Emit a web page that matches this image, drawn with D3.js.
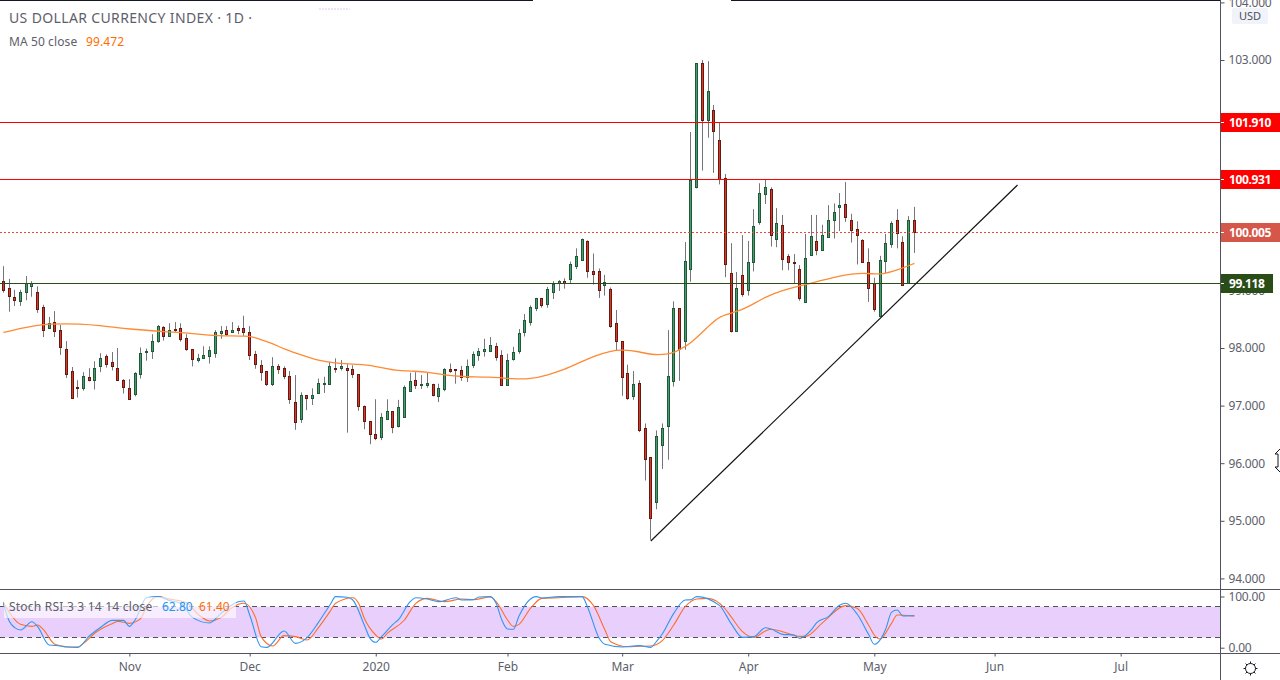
<!DOCTYPE html>
<html>
<head>
<meta charset="utf-8">
<script src="https://cdn.jsdelivr.net/npm/d3@7"></script>
<style>
html, body { margin: 0; padding: 0; background: #fff; overflow: hidden; }
text { font-family: "Noto Sans", sans-serif; }
</style>
</head>
<body>
<div id="canvas"></div>
<script>
var highs = [99.42,99.20,99.01,99.01,99.25,99.16,99.07,98.75,98.54,98.64,98.40,98.12,97.67,97.44,97.58,97.65,97.77,97.91,97.89,97.93,
    98.00,97.46,97.46,97.58,98.01,97.99,98.24,98.40,98.38,98.43,98.45,98.43,98.24,97.98,97.90,98.03,98.03,98.31,98.38,98.38,
    98.45,98.39,98.56,98.38,97.95,97.79,97.60,97.84,97.72,97.68,97.60,97.53,97.23,97.18,97.30,97.47,97.50,97.76,97.82,97.79,
    97.72,97.70,97.54,97.00,96.73,97.11,96.87,97.11,96.90,97.10,97.35,97.57,97.58,97.53,97.57,97.38,97.38,97.65,97.73,97.63,
    97.69,97.80,97.94,98.00,98.16,98.19,98.09,97.96,97.90,98.02,98.33,98.59,98.74,98.87,98.87,99.06,99.16,99.18,99.21,99.50,
    99.73,99.90,99.87,99.64,99.38,99.27,99.05,98.66,98.12,97.71,97.60,97.44,96.69,96.10,96.57,96.69,98.31,98.81,98.69,99.84,
    101.75,102.94,103.00,102.98,102.22,101.91,101.02,99.82,99.32,99.96,99.86,100.41,100.86,100.92,100.79,100.43,100.31,99.63,99.63,99.44,
    99.98,100.31,100.31,100.14,100.48,100.51,100.69,100.88,100.33,100.20,99.89,99.73,99.22,99.60,99.98,100.20,100.41,99.94,100.29,100.45];
var lows = [98.96,98.63,98.73,98.73,98.83,98.89,98.61,98.19,98.33,98.19,97.88,97.48,97.14,97.14,97.26,97.42,97.28,97.58,97.66,97.61,
    97.43,97.21,97.10,97.16,97.47,97.78,97.81,98.09,98.13,98.20,98.28,98.11,97.95,97.68,97.75,97.83,97.73,97.83,98.16,98.21,
    98.26,98.24,98.21,97.79,97.64,97.43,97.34,97.34,97.55,97.46,97.03,96.58,96.70,96.92,97.01,97.20,97.22,97.38,97.57,97.61,
    96.53,97.48,96.91,96.59,96.33,96.40,96.40,96.77,96.52,96.62,96.81,97.24,97.29,97.29,97.31,97.16,97.06,97.25,97.57,97.38,
    97.43,97.41,97.65,97.78,97.85,97.93,97.78,97.35,97.36,97.78,97.90,98.20,98.39,98.64,98.70,98.70,98.85,98.99,99.03,99.12,
    99.37,99.52,99.22,99.10,98.87,98.91,98.35,97.96,97.17,97.10,97.10,96.54,95.70,94.67,95.20,95.90,96.06,97.33,97.43,97.97,
    99.15,100.77,101.08,101.65,101.04,100.84,99.23,98.27,98.28,98.89,98.91,99.33,100.14,100.50,99.76,99.75,99.35,99.35,99.12,98.82,
    98.80,99.60,99.61,99.70,99.91,99.90,100.03,100.19,99.83,99.45,99.48,98.80,98.63,98.56,99.30,99.74,99.73,99.10,99.12,99.65];
var opens = [99.16,99.04,98.88,98.82,98.98,99.08,98.98,98.71,98.35,98.45,98.32,97.99,97.60,97.33,97.31,97.49,97.45,97.68,97.86,97.75,
    97.66,97.44,97.30,97.21,97.54,97.93,97.94,98.13,98.36,98.20,98.33,98.34,98.17,97.98,97.80,97.83,97.86,97.92,98.26,98.32,
    98.28,98.34,98.34,98.27,97.89,97.70,97.60,97.38,97.68,97.65,97.51,97.07,96.77,97.18,97.14,97.22,97.39,97.38,97.66,97.66,
    97.66,97.63,97.54,97.00,96.73,96.50,96.46,96.77,96.90,96.65,96.81,97.26,97.44,97.35,97.35,97.37,97.17,97.29,97.63,97.63,
    97.61,97.49,97.71,97.88,97.94,97.94,98.03,97.87,97.36,97.81,97.94,98.28,98.46,98.70,98.86,98.77,98.98,99.12,99.16,99.19,
    99.43,99.53,99.85,99.33,99.33,99.09,99.02,98.43,98.12,97.56,97.16,97.39,96.61,96.10,95.33,96.32,96.65,97.43,98.69,98.13,
    99.38,100.79,102.94,101.95,102.14,101.61,100.96,99.30,98.30,99.26,99.01,99.50,100.19,100.67,100.76,99.90,100.13,99.59,99.49,99.38,
    98.80,99.62,99.85,99.71,99.93,100.22,100.44,100.50,100.23,100.06,99.87,99.49,99.12,98.56,99.51,99.80,100.22,99.84,99.12,100.23];
var closes = [99.01,98.91,98.84,98.98,99.12,99.12,98.68,98.32,98.43,98.30,98.01,97.55,97.14,97.31,97.51,97.45,97.66,97.82,97.73,97.68,
    97.45,97.33,97.12,97.56,97.91,97.94,98.13,98.39,98.21,98.32,98.31,98.15,97.99,97.81,97.83,97.87,97.96,98.27,98.29,98.24,
    98.31,98.31,98.27,97.88,97.73,97.59,97.38,97.68,97.64,97.52,97.12,96.72,97.18,97.14,97.18,97.40,97.40,97.68,97.65,97.68,
    97.62,97.55,97.00,96.74,96.51,96.44,96.80,96.90,96.62,96.97,97.32,97.42,97.35,97.37,97.39,97.19,97.30,97.63,97.60,97.61,
    97.49,97.68,97.89,97.94,97.98,98.06,97.85,97.35,97.80,97.93,98.26,98.48,98.71,98.86,98.74,99.02,99.11,99.16,99.13,99.45,
    99.59,99.89,99.33,99.29,99.00,99.14,98.39,98.13,97.50,97.14,97.37,96.58,96.08,95.05,96.48,96.61,97.51,98.69,97.99,99.51,
    100.92,102.94,101.95,102.47,101.77,100.94,99.45,98.30,99.04,98.94,99.49,100.11,100.69,100.79,99.96,100.17,99.55,99.49,99.48,98.86,
    99.57,99.94,99.71,99.96,100.22,100.36,100.48,100.28,100.05,99.96,99.50,99.04,98.67,99.52,99.82,100.17,99.99,99.10,100.23,100.01];

var maBars = [0,3,5,8,11,13,17,20,22,25,28,31,34,37,43,44,47,49,52,55,58,63,66,69,72,74,77,80,85,89,92,95,98,100,103,106,108,111,113,116,117,118,120,123,125,128,130,133,136,139,142,145,148,151,153,156,159];
var maValues = [98.27,98.34,98.38,98.42,98.42,98.42,98.39,98.35,98.33,98.31,98.28,98.27,98.24,98.21,98.21,98.18,98.08,97.98,97.88,97.78,97.73,97.72,97.66,97.60,97.60,97.58,97.53,97.50,97.50,97.46,97.46,97.53,97.63,97.72,97.86,97.95,97.97,97.94,97.88,97.89,97.92,97.97,98.08,98.37,98.56,98.63,98.71,98.89,99.00,99.08,99.15,99.23,99.29,99.30,99.27,99.35,99.47];

var kBars = [0,1,2,3,5,6,8,10,11,13,15,17,19,21,22,23,25,27,29,31,33,36,38,41,42,43,45,46,49,51,53,55,57,58,60,61,63,64,65,66,68,69,71,72,74,76,79,80,82,83,85,86,87,88,89,90,92,93,94,97,101,102,104,105,108,111,113,114,115,117,119,120,121,125,127,129,131,133,134,136,138,139,141,142,144,146,147,149,151,152,154,155,156,157,159];
var kValues = [86.7,52.8,39.1,34.6,50.8,41.1,5.3,3.3,1.4,0.7,22.8,39.8,53.4,53.4,41.7,54.1,97.7,99.7,91.9,86.7,59.3,48.3,67.1,89.9,91.2,63.9,2.0,0.7,32.6,8.5,19.6,49.5,83.4,99.7,98.4,93.2,44.3,18.3,10.5,21.6,45.6,55.4,89.9,97.7,95.1,89.9,97.7,93.2,93.8,99.0,99.7,86.7,54.1,36.5,35.9,61.9,95.1,99.7,97.1,99.7,99.7,78.2,18.3,6.6,1.4,4.0,0.7,12.4,26.8,67.1,93.2,93.8,99.7,82.1,47.6,20.2,21.6,39.1,36.5,26.1,24.8,18.3,34.6,49.5,60.6,83.4,86.7,65.8,26.1,6.6,36.5,69.1,73.6,62.0,62.8];
var dBars = [0,1,3,5,6,7,9,11,13,14,16,19,20,22,24,25,27,29,32,34,36,38,40,42,44,45,47,49,51,53,55,57,58,61,62,63,65,66,67,70,72,74,77,80,82,85,86,88,89,90,92,94,97,101,103,105,106,109,111,113,115,117,119,121,123,126,127,129,131,133,134,136,139,140,143,147,149,151,152,153,155,156,159];
var dValues = [88.6,69.7,45.6,41.7,44.3,35.2,6.6,2.0,1.4,8.5,28.7,46.9,51.5,47.6,57.4,80.1,100,95.1,88.0,65.2,52.2,58.7,78.8,86.7,59.3,21.6,3.3,23.5,21.6,15.0,39.1,70.4,86.7,97.7,86.7,57.4,24.8,17.0,28.1,54.1,86.7,96.4,89.9,95.1,93.8,99.0,89.9,54.1,41.7,45.6,76.9,96.4,97.7,99.7,82.1,34.6,11.8,2.0,2.7,3.3,13.7,44.3,80.1,95.1,96.4,75.6,60.6,31.3,20.2,32.6,35.9,31.3,22.2,22.2,48.9,82.1,76.9,44.3,24.8,17.0,47.6,63.9,61.4];

var priceTicks = [104,103,99,98,97,96,95,94];
var stochTicks = [100,0];
var monthBars = [22,43,65,88,108,130,152,173,195];
var monthLabels = ['Nov','Dec','2020','Feb','Mar','Apr','May','Jun','Jul'];
var levels = [101.91,100.931,100.005,99.118];
var levelColors = ['#ff0000','#ff0000','#d5574a','#2a4d17'];
var trendBars = [113,177];
var trendValues = [94.65,100.83];
var stochBands = [80,20];

var WIDTH = 1280, HEIGHT = 680;
var AXIS_X = 1220.5, PANE_TOP = 589.5, PANE_BOTTOM = 653.5;
var TEXT = '#5d606b', LINE = '#50535e';
var UP_FILL = '#4b9b6f', UP_EDGE = '#1c5a38', DOWN_FILL = '#d9392a', DOWN_EDGE = '#65190f';

var svg = d3.select('#canvas').append('svg').attr('width', WIDTH).attr('height', HEIGHT).style('display', 'block');

var x = d3.scaleLinear().domain([0, 159]).range([3.3, 914.4]);
var y = d3.scaleLinear().domain([103, 94]).range([60, 578.4]);
var ys = d3.scaleLinear().domain([100, 0]).range([596.5, 647.7]);

function snap(v) {
    return Math.floor(v) + 0.5;
}

// candles
var candles = svg.append('g');
closes.forEach(function(c, i) {
    var cx = snap(x(i));
    var up = c >= opens[i];
    var top = Math.round(y(Math.max(opens[i], c))) + 0.5;
    var bot = Math.round(y(Math.min(opens[i], c))) + 0.5;
    candles.append('line')
        .attr('x1', cx).attr('x2', cx)
        .attr('y1', y(highs[i])).attr('y2', y(lows[i]))
        .attr('stroke', '#76767a').attr('stroke-width', 1);
    candles.append('rect')
        .attr('x', cx - 1).attr('width', 2)
        .attr('y', top).attr('height', Math.max(bot - top, 1))
        .attr('fill', up ? UP_FILL : DOWN_FILL)
        .attr('stroke', up ? UP_EDGE : DOWN_EDGE).attr('stroke-width', 1);
});

// moving average
var maLine = d3.line()
    .x(function(d) { return x(d[0]); })
    .y(function(d) { return y(d[1]); })
    .curve(d3.curveBasis);
svg.append('path')
    .attr('d', maLine(d3.zip(maBars, maValues)))
    .attr('fill', 'none').attr('stroke', '#ff8a33').attr('stroke-width', 1.3);

// horizontal levels
levels.forEach(function(v, i) {
    svg.append('line')
        .attr('x1', 0).attr('x2', AXIS_X)
        .attr('y1', Math.floor(y(v)) + 0.5).attr('y2', Math.floor(y(v)) + 0.5)
        .attr('stroke', i == 2 ? '#ef4a38' : levelColors[i]).attr('stroke-width', 1)
        .attr('stroke-dasharray', i == 2 ? '2,2' : null);
});

// trend line
svg.append('line')
    .attr('x1', x(trendBars[0])).attr('y1', y(trendValues[0]))
    .attr('x2', x(trendBars[1])).attr('y2', y(trendValues[1]))
    .attr('stroke', '#111').attr('stroke-width', 1.2);

// stoch pane
svg.append('rect')
    .attr('x', 0).attr('width', AXIS_X)
    .attr('y', ys(stochBands[0])).attr('height', ys(stochBands[1]) - ys(stochBands[0]))
    .attr('fill', '#e9d0fc');
stochBands.forEach(function(v) {
    svg.append('line')
        .attr('x1', 0).attr('x2', AXIS_X)
        .attr('y1', Math.floor(ys(v)) + 0.5).attr('y2', Math.floor(ys(v)) + 0.5)
        .attr('stroke', '#50535e').attr('stroke-width', 1).attr('stroke-dasharray', '5,4');
});
var stochLine = d3.line()
    .x(function(d) { return x(d[0]); })
    .y(function(d) { return ys(d[1]); })
    .curve(d3.curveMonotoneX);
svg.append('path')
    .attr('d', stochLine(d3.zip(dBars, dValues)))
    .attr('fill', 'none').attr('stroke', '#ff6d2a').attr('stroke-width', 1.1);
svg.append('path')
    .attr('d', stochLine(d3.zip(kBars, kValues)))
    .attr('fill', 'none').attr('stroke', '#2f96f3').attr('stroke-width', 1.1);

// stoch legend
svg.append('rect').attr('x', 4).attr('y', 597).attr('width', 232).attr('height', 21).attr('fill', '#fff').attr('opacity', 0.62);
svg.append('text').attr('x', 9).attr('y', 611).attr('font-size', 12).attr('letter-spacing', 0.22).attr('fill', TEXT).text('Stoch RSI 3 3 14 14 close');
svg.append('text').attr('x', 162).attr('y', 611).attr('font-size', 12).attr('fill', '#2196f3').text('62.80');
svg.append('text').attr('x', 199).attr('y', 611).attr('font-size', 12).attr('fill', '#ff6d00').text('61.40');

// pane borders
svg.append('line').attr('x1', 0).attr('x2', WIDTH).attr('y1', PANE_TOP).attr('y2', PANE_TOP).attr('stroke', LINE);
svg.append('line').attr('x1', 0).attr('x2', WIDTH).attr('y1', PANE_BOTTOM).attr('y2', PANE_BOTTOM).attr('stroke', LINE);
svg.append('line').attr('x1', 0).attr('x2', 533).attr('y1', 0.5).attr('y2', 0.5).attr('stroke', '#131722');
svg.append('line').attr('x1', 731).attr('x2', AXIS_X).attr('y1', 0.5).attr('y2', 0.5).attr('stroke', '#131722');
svg.append('line').attr('x1', 319).attr('x2', 350).attr('y1', 9).attr('y2', 9)
    .attr('stroke', '#d9c8ee').attr('stroke-dasharray', '2,1');

// axes
function style_axis(g) {
    g.select('.domain').remove();
    g.selectAll('line').attr('stroke', LINE);
    g.selectAll('text').attr('fill', TEXT).attr('font-family', '"Noto Sans", sans-serif').attr('font-size', 12);
}
svg.append('g').attr('transform', 'translate(' + AXIS_X + ',0)')
    .call(d3.axisRight(y).tickValues(priceTicks).tickSize(4).tickPadding(4).tickFormat(d3.format('.3f')))
    .call(style_axis)
    .selectAll('text').attr('letter-spacing', -0.2);
svg.append('g').attr('transform', 'translate(' + AXIS_X + ',0)')
    .call(d3.axisRight(ys).tickValues(stochTicks).tickSize(4).tickPadding(4).tickFormat(d3.format('.2f')))
    .call(style_axis)
    .selectAll('text').attr('letter-spacing', -0.2);
svg.append('g').attr('transform', 'translate(0,' + PANE_BOTTOM + ')')
    .call(d3.axisBottom(x).tickValues(monthBars).tickSize(3).tickPadding(6).tickFormat(function(d, i) { return monthLabels[i]; }))
    .call(style_axis);
svg.append('line').attr('x1', AXIS_X).attr('x2', AXIS_X).attr('y1', 0).attr('y2', HEIGHT).attr('stroke', LINE);

// price labels on the axis
levels.forEach(function(v, i) {
    var cy = Math.floor(y(v)) + 0.5;
    var w = i == 3 ? 52 : 59;
    svg.append('rect').attr('x', 1221).attr('y', cy - 9.5).attr('width', w).attr('height', 19).attr('fill', levelColors[i]);
    svg.append('line').attr('x1', 1221).attr('x2', 1224).attr('y1', cy).attr('y2', cy).attr('stroke', '#fff');
    svg.append('text').attr('x', 1229).attr('y', cy + 4.5)
        .attr('font-size', 12).attr('font-weight', 700).attr('letter-spacing', -0.35).attr('fill', '#fff')
        .text(d3.format('.3f')(v));
});

// currency badge
svg.append('rect').attr('x', 1232).attr('y', 8).attr('width', 36).attr('height', 16).attr('rx', 2).attr('fill', '#f0f3fa');
svg.append('text').attr('x', 1250).attr('y', 20).attr('text-anchor', 'middle').attr('font-size', 11).attr('fill', '#4c4f58').text('USD');

// legends
svg.append('text').attr('x', 9).attr('y', 23).attr('font-size', 14).attr('letter-spacing', 0.36).attr('fill', TEXT).text('US DOLLAR CURRENCY INDEX · 1D ·');
svg.append('text').attr('x', 9).attr('y', 46).attr('font-size', 12).attr('letter-spacing', 0.1).attr('fill', TEXT).text('MA 50 close');
svg.append('text').attr('x', 86).attr('y', 46).attr('font-size', 12).attr('letter-spacing', 0.1).attr('fill', '#ff6d00').text('99.472');

// settings gear and the cursor at the right edge
var gear = svg.append('g').attr('transform', 'translate(1250.5,668.5)').attr('fill', 'none').attr('stroke', '#131722');
gear.append('circle').attr('r', 5);
d3.range(8).forEach(function(k) {
    var a = k * Math.PI / 4;
    gear.append('line')
        .attr('x1', 5 * Math.cos(a)).attr('y1', 5 * Math.sin(a))
        .attr('x2', 7 * Math.cos(a)).attr('y2', 7 * Math.sin(a));
});
svg.append('path')
    .attr('d', 'M1280,449 L1275,454 L1278,454 L1278,467 L1275,467 L1280,472')
    .attr('fill', '#fff').attr('stroke', '#131722');
</script>
</body>
</html>
